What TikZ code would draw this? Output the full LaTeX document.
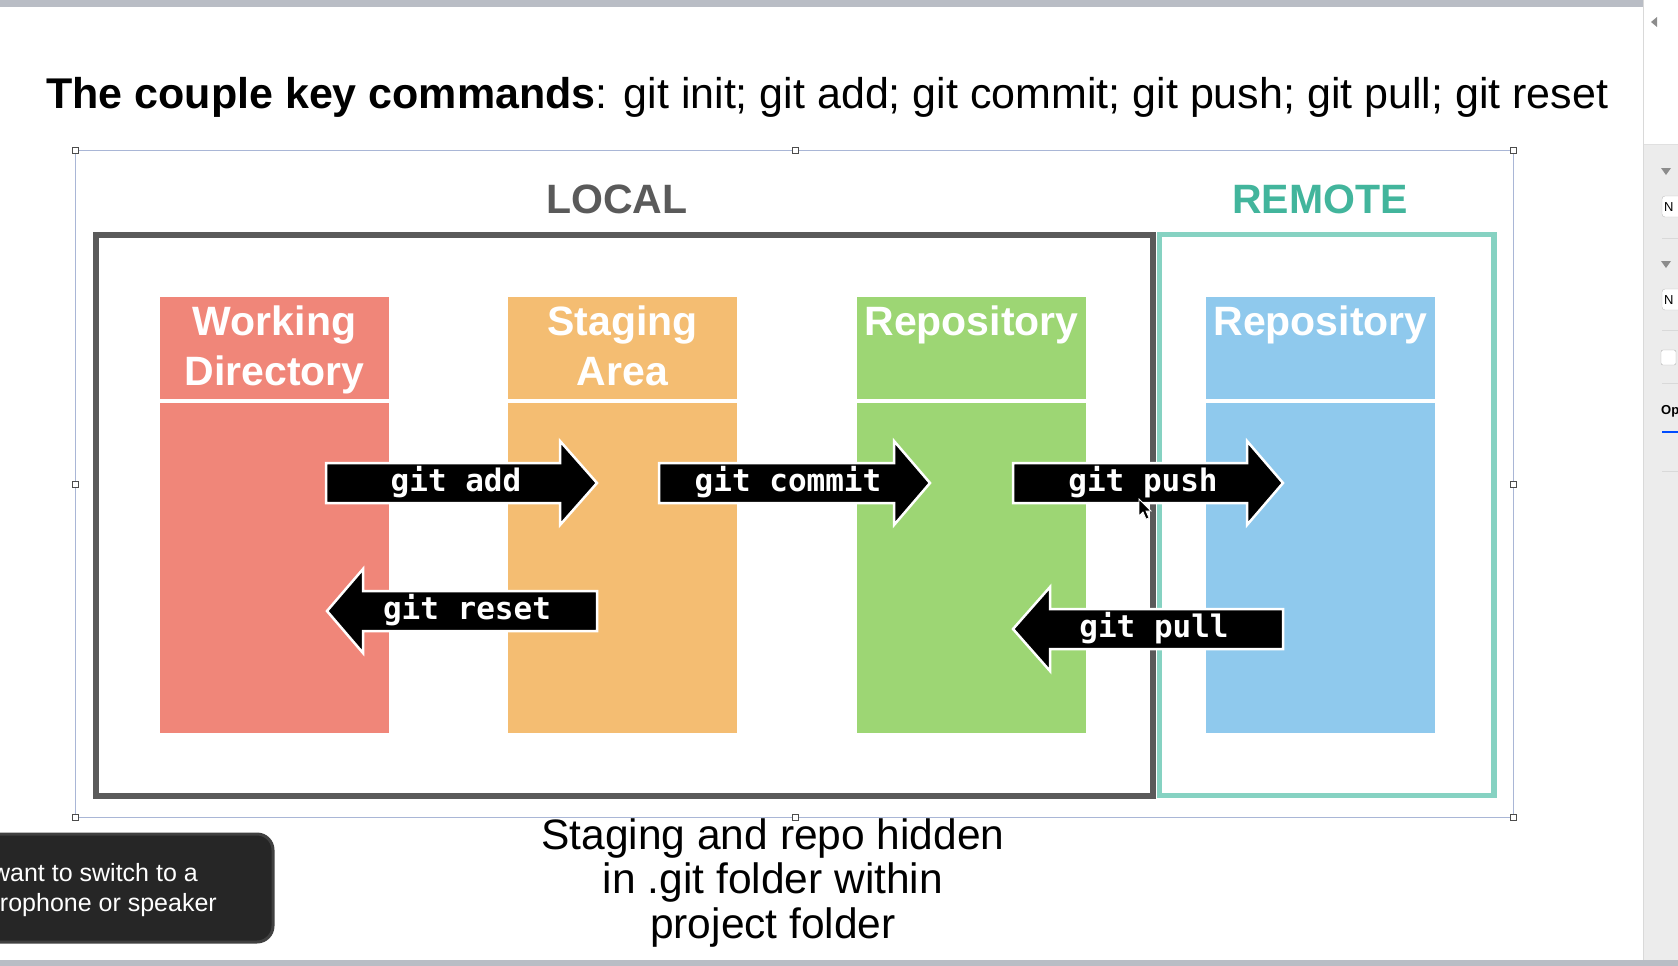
\documentclass[tikz,border=0pt]{standalone}
\usepackage{fontspec}
\setmainfont{Liberation Sans}
\newfontfamily\codefont{DejaVu Sans Mono}
\definecolor{wdcol}{HTML}{F08679}
\definecolor{stcol}{HTML}{F4BD72}
\definecolor{rpcol}{HTML}{9DD674}
\definecolor{rmcol}{HTML}{8FC9ED}
\definecolor{localgrey}{HTML}{5A5A5A}
\definecolor{tealbox}{HTML}{86D2C2}
\definecolor{tealtext}{HTML}{42B59C}
\definecolor{selcol}{HTML}{A9B6D6}
\definecolor{barcol}{HTML}{B9BDC5}
\definecolor{panelcol}{HTML}{ECECEC}
\definecolor{toastcol}{HTML}{262626}
\tikzset{
  colbox/.style={inner sep=0pt, outer sep=0pt},
  hdrtext/.style={anchor=base, text=white, font=\fontsize{41}{50}\selectfont\bfseries, inner sep=0pt},
  arrowblk/.style={fill=black, draw=white, line width=2.5pt, line join=miter},
  cmdtext/.style={text=white, font=\codefont\fontsize{31}{34}\selectfont\bfseries, inner sep=0pt},
  handle/.style={draw=black!70, fill=white, line width=0.8pt, minimum size=6pt, inner sep=0pt},
  bottomtext/.style={anchor=base, font=\fontsize{42.5}{45}\selectfont, inner sep=0pt},
  toasttext/.style={anchor=base east, text=white, font=\fontsize{25}{30}\selectfont, inner sep=0pt},
}
\newcommand\rightblk[4]{\path[arrowblk] (#1,{#4-20}) -- (#2,{#4-20}) -- (#2,{#4-42}) -- (#3,#4) -- (#2,{#4+42}) -- (#2,{#4+20}) -- (#1,{#4+20}) -- cycle;}
\newcommand\leftblk[4]{\path[arrowblk] (#3,{#4-20}) -- (#2,{#4-20}) -- (#2,{#4-42}) -- (#1,#4) -- (#2,{#4+42}) -- (#2,{#4+20}) -- (#3,{#4+20}) -- cycle;}
\begin{document}
\begin{tikzpicture}[x=1pt,y=-1pt]
\useasboundingbox (0,0) rectangle (1678,966);
\fill[white] (0,0) rectangle (1678,966);
% window chrome
\fill[barcol] (0,0) rectangle (1643,7);
\fill[barcol] (0,960) rectangle (1678,966);
\fill[panelcol] (1644,144) rectangle (1678,960);
\draw[black!15, line width=1pt] (1643.5,0) -- (1643.5,960);
\draw[black!12, line width=1pt] (1644,144) -- (1678,144);
\fill[black!45] (1651,22) -- (1657,17) -- (1657,27) -- cycle;
\fill[black!45] (1661,168) -- (1671,168) -- (1666,175) -- cycle;
\fill[black!45] (1661,261) -- (1671,261) -- (1666,268) -- cycle;
\draw[black!25, fill=white, rounded corners=3pt] (1662,196) rectangle (1682,217);
\draw[black!25, fill=white, rounded corners=3pt] (1662,289) rectangle (1682,310);
\node[font=\fontsize{13}{13}\selectfont, anchor=west, inner sep=0pt] (pn1) at (1664,207) {N};
\node[font=\fontsize{13}{13}\selectfont, anchor=west, inner sep=0pt] (pn2) at (1664,300) {N};
\draw[black!15] (1662,238) -- (1678,238);
\draw[black!15] (1662,330) -- (1678,330);
\draw[black!30, fill=white, rounded corners=2pt] (1661,350) rectangle (1676,365);
\draw[black!15] (1662,383) -- (1678,383);
\node[font=\fontsize{13}{13}\selectfont\bfseries, anchor=west, inner sep=0pt] (pop) at (1661,411) {Op};
\draw[blue!70!cyan, line width=2.5pt] (1662,432) -- (1678,432);
\draw[black!15] (1662,471) -- (1678,471);
% title
\node[anchor=base west, inner sep=0pt, font=\fontsize{43}{45}\selectfont] (title) at (46,108)
  {\textbf{The couple key commands}: git init; git add; git commit; git push; git pull; git reset};
% selection frame
\draw[selcol, line width=1pt] (75,150) rectangle (1513,817);
% region labels
\node[anchor=base, text=localgrey, font=\fontsize{41}{41}\selectfont\bfseries, inner sep=0pt] (local) at (617,213) {LOCAL};
\node[anchor=base, text=tealtext, font=\fontsize{41}{41}\selectfont\bfseries, inner sep=0pt] (remote) at (1320,213) {REMOTE};
% columns
\fill[wdcol] (160,297) rectangle (389,733);
\fill[stcol] (508,297) rectangle (737,733);
\fill[rpcol] (857,297) rectangle (1086,733);
\fill[rmcol] (1206,297) rectangle (1435,733);
\foreach \xa/\xb in {160/389,508/737,857/1086,1206/1435}
  \draw[white, line width=3.5pt] (\xa,401) -- (\xb,401);
\node[hdrtext] (wd1) at (274.5,335) {Working};
\node[hdrtext] (wd2) at (274.5,385) {Directory};
\node[hdrtext] (st1) at (622.5,335) {Staging};
\node[hdrtext] (st2) at (622.5,385) {Area};
\node[hdrtext] (rp1) at (971.5,335) {Repository};
\node[hdrtext] (rm1) at (1320.5,335) {Repository};
% boxes
\draw[tealbox, line width=5.5pt] (1159.5,234.5) rectangle (1494,795.5);
\draw[localgrey, line width=6pt] (96,234.5) rectangle (1153,795.5);
% arrows
\rightblk{326}{560}{597}{483}
\rightblk{659}{894}{930}{483}
\rightblk{1013}{1247}{1283}{483}
\leftblk{327}{363}{597}{611}
\leftblk{1013}{1050}{1283}{629}
\node[cmdtext] (add) at (456,482) {git add};
\node[cmdtext] (commit) at (788,482) {git commit};
\node[cmdtext] (push) at (1143,482) {git push};
\node[cmdtext] (reset) at (467,610) {git reset};
\node[cmdtext] (pull) at (1154,628) {git pull};
% cursor
\path[fill=black, draw=white, line width=0.8pt] (1139,499) -- (1139,516) -- (1143,512) -- (1146,519) -- (1149,518) -- (1146,511) -- (1151,511) -- cycle;
% handles
\foreach \hx/\hy [count=\i] in {75/150,795/150,1513/150,75/484,1513/484,75/817,795/817,1513/817}
  \node[handle] (h\i) at (\hx,\hy) {};
% bottom text
\node[bottomtext] (b1) at (773,849) {Staging and repo hidden};
\node[bottomtext] (b2) at (773,893) {in .git folder within};
\node[bottomtext] (b3) at (773,938) {project folder};
% toast
\draw[fill=toastcol, draw=black!75, line width=3pt, rounded corners=16pt] (-20,834) rectangle (273,942);
\node[toasttext] (t1) at (198,881) {want to switch to a};
\node[toasttext] (t2) at (217,911) {rophone or speaker};
\end{tikzpicture}
\end{document}
